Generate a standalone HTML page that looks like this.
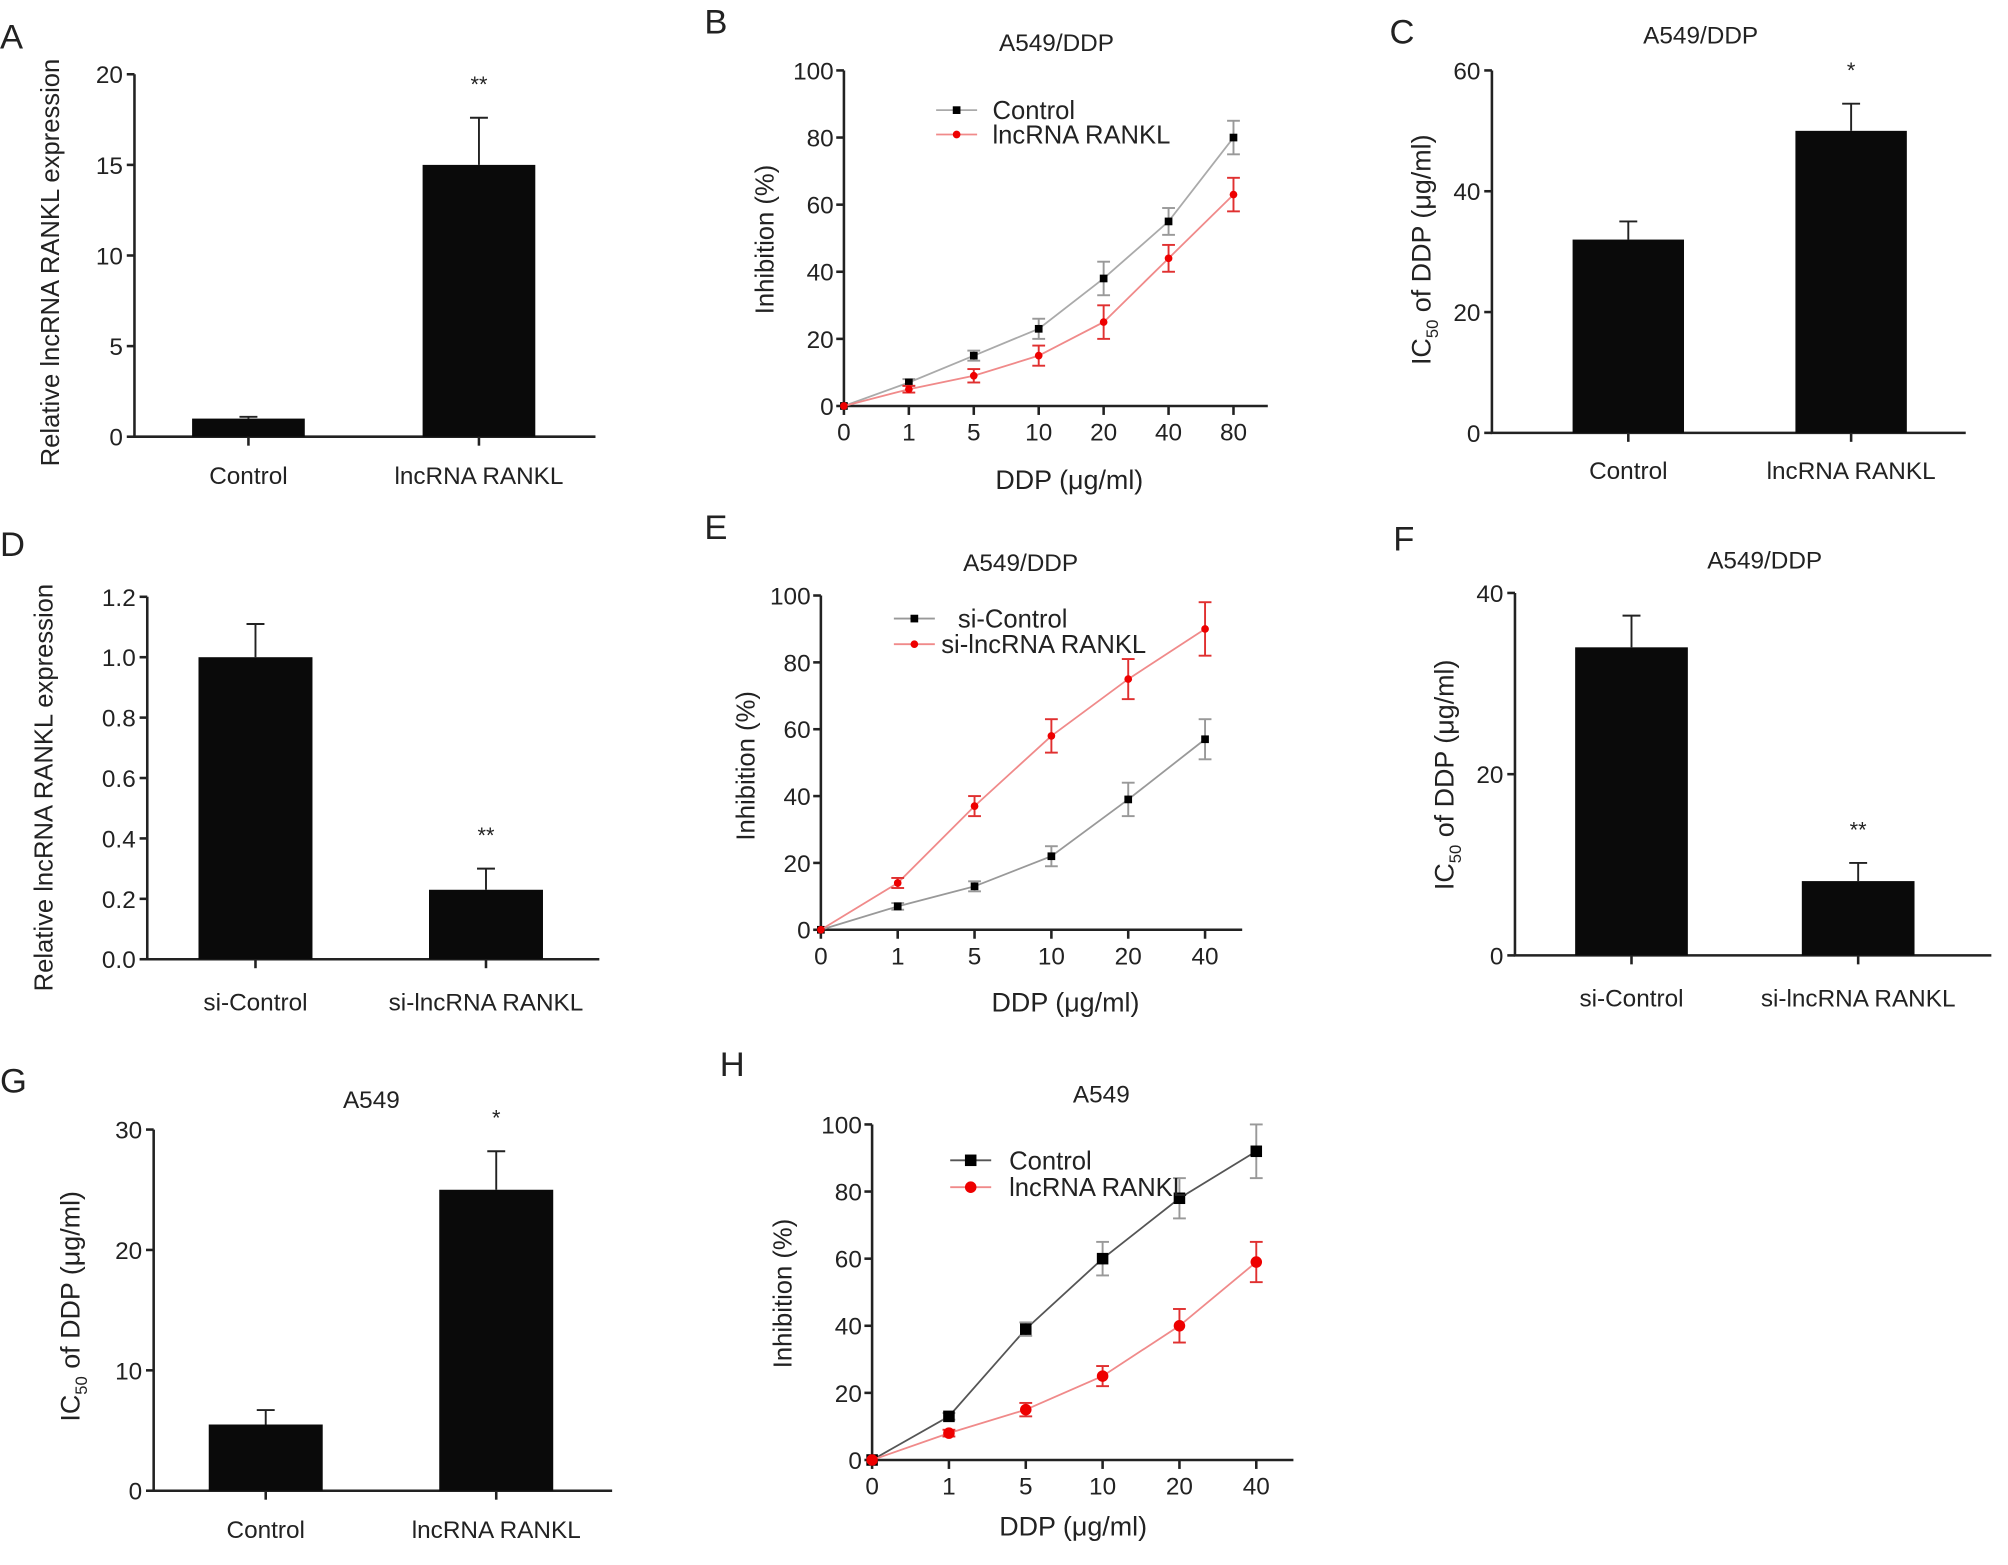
<!DOCTYPE html>
<html><head><meta charset="utf-8"><style>
html,body{margin:0;padding:0;background:#fff;}
svg{display:block;font-family:"Liberation Sans",Arial,sans-serif;}
</style></head><body>
<svg id="fig" width="2008" height="1565" viewBox="0 0 1568 1222" preserveAspectRatio="none" xmlns="http://www.w3.org/2000/svg">
<rect width="1568" height="1222" fill="#fff"/>
</svg>
<script>
// ---- Data ----
const barACats = ["Control", "lncRNA RANKL"];
const barAVals = [1, 15];
const barAErr = [0.1, 2.6];
const barAStars = ["", "**"];
const barATicks = [0, 5, 10, 15, 20];

const lineBCats = ["0", "1", "5", "10", "20", "40", "80"];
const lineBCtrl = [0, 7, 15, 23, 38, 55, 80];
const lineBCtrlErr = [0, 1, 1.5, 3, 5, 4, 5];
const lineBRankl = [0, 5, 9, 15, 25, 44, 63];
const lineBRanklErr = [0, 1, 2, 3, 5, 4, 5];
const inhTicks = [0, 20, 40, 60, 80, 100];

const barCCats = ["Control", "lncRNA RANKL"];
const barCVals = [32, 50];
const barCErr = [3, 4.5];
const barCStars = ["", "*"];
const barCTicks = [0, 20, 40, 60];

const barDCats = ["si-Control", "si-lncRNA RANKL"];
const barDVals = [1.0, 0.23];
const barDErr = [0.11, 0.07];
const barDStars = ["", "**"];
const barDTicks = ["0.0", "0.2", "0.4", "0.6", "0.8", "1.0", "1.2"];

const lineECats = ["0", "1", "5", "10", "20", "40"];
const lineECtrl = [0, 7, 13, 22, 39, 57];
const lineECtrlErr = [0, 1, 1.5, 3, 5, 6];
const lineERankl = [0, 14, 37, 58, 75, 90];
const lineERanklErr = [0, 1.5, 3, 5, 6, 8];

const barFCats = ["si-Control", "si-lncRNA RANKL"];
const barFVals = [34, 8.2];
const barFErr = [3.5, 2];
const barFStars = ["", "**"];
const barFTicks = [0, 20, 40];

const barGCats = ["Control", "lncRNA RANKL"];
const barGVals = [5.5, 25];
const barGErr = [1.2, 3.2];
const barGStars = ["", "*"];
const barGTicks = [0, 10, 20, 30];

const lineHCats = ["0", "1", "5", "10", "20", "40"];
const lineHCtrl = [0, 13, 39, 60, 78, 92];
const lineHCtrlErr = [0, 1, 2, 5, 6, 8];
const lineHRankl = [0, 8, 15, 25, 40, 59];
const lineHRanklErr = [0, 1, 2, 3, 5, 6];

// ---- Drawing ----
const svg = document.getElementById('fig');
const NS = 'http://www.w3.org/2000/svg';
function el(tag, attrs, parent) {
  const e = document.createElementNS(NS, tag);
  for (const k in attrs) e.setAttribute(k, attrs[k]);
  (parent || svg).appendChild(e);
  return e;
}
function txt(s, x, y, size, anchor, parent, rot) {
  const t = el('text', {x: x, y: y, 'font-size': size, 'text-anchor': anchor || 'middle', fill: '#222'}, parent);
  if (rot) t.setAttribute('transform', 'rotate(-90 ' + x + ' ' + y + ')');
  t.textContent = s;
  return t;
}
function panelLetter(L, x, y) {
  const t = txt(L, x, y, 27, 'start');
  
  
}

function barChart(o) {
  const g = el('g', {});
  
  
  const ticks = o.ticks.map(Number);
  const ymin = ticks[0], ymax = ticks[ticks.length - 1];
  const ys = v => o.y0 - (v - ymin) / (ymax - ymin) * (o.y0 - o.y1);
  const ax = el('path', {d: `M${o.ax},${o.y1} V${o.y0} H${o.xend}`, stroke: '#222', 'stroke-width': 2, fill: 'none'}, g);
  
  
  o.ticks.forEach((t, i) => {
    const y = ys(Number(t));
    el('line', {x1: o.ax - 6, x2: o.ax, y1: y, y2: y, stroke: '#222', 'stroke-width': 2}, g);
    const tl = txt(String(t), o.ax - 9, y + 7, 19, 'end', g);
    
    
  });
  o.cats.forEach((c, i) => {
    const x = o.bx[i], w = o.bw;
    const cx = x + w / 2;
    const top = ys(o.vals[i]);
    const b = el('rect', {x: x, y: top, width: w, height: o.y0 - top, fill: '#0a0a0a'}, g);
    
    
    const et = ys(o.vals[i] + o.err[i]);
    el('line', {x1: cx, x2: cx, y1: top, y2: et, stroke: '#222', 'stroke-width': 1.5}, g);
    el('line', {x1: cx - 7, x2: cx + 7, y1: et, y2: et, stroke: '#222', 'stroke-width': 1.5}, g);
    el('line', {x1: cx, x2: cx, y1: o.y0, y2: o.y0 + 7, stroke: '#222', 'stroke-width': 2}, g);
    const cl = txt(c, cx, o.labY, 19, 'middle', g);
    
    
    if (o.stars[i]) {
      const s = txt(o.stars[i], cx, et - 20, 17, 'middle', g);
      
      
    }
  });
  if (o.title) {
    const tt = txt(o.title, o.title[1], o.title[2], 19, 'middle', g);
  }
  if (o.ic50) {
    const t = el('text', {x: o.ytx, y: o.yty, 'font-size': 21, 'text-anchor': 'middle', fill: '#222', transform: `rotate(-90 ${o.ytx} ${o.yty})`}, g);
    t.innerHTML = 'IC<tspan font-size="13" dy="6">50</tspan><tspan dy="-6"> of DDP (μg/ml)</tspan>';
    
    
  } else {
    const t = txt(o.ytitle, o.ytx, o.yty, 20, 'middle', g, true);
    
    
  }
}

function lineChart(o) {
  const g = el('g', {});
  
  
  const ys = v => o.y0 - v / 100 * (o.y0 - o.y1);
  const xs = i => o.x0 + i * o.dx;
  const ax = el('path', {d: `M${o.x0},${o.y1} V${o.y0} H${o.xend}`, stroke: '#222', 'stroke-width': 2, fill: 'none'}, g);
  
  
  inhTicks.forEach(t => {
    const y = ys(t);
    el('line', {x1: o.x0 - 6, x2: o.x0, y1: y, y2: y, stroke: '#222', 'stroke-width': 2}, g);
    const tl = txt(String(t), o.x0 - 8, y + 7, 19, 'end', g);
    
    
  });
  o.cats.forEach((c, i) => {
    const x = xs(i);
    el('line', {x1: x, x2: x, y1: o.y0, y2: o.y0 + 7, stroke: '#222', 'stroke-width': 2}, g);
    const tl = txt(c, x, o.y0 + 27, 19, 'middle', g);
    
    
  });
  const series = [
    {vals: o.ctrl, err: o.ctrlErr, line: o.ctrlLine, mk: '#000', shape: 'sq', name: 'control'},
    {vals: o.rankl, err: o.ranklErr, line: '#f08a8a', mk: '#e00', shape: 'ci', name: 'lncrna-rankl'}
  ];
  series.forEach(s => {
    const pts = s.vals.map((v, i) => xs(i) + ',' + ys(v)).join(' ');
    const pl = el('polyline', {points: pts, fill: 'none', stroke: s.line, 'stroke-width': 1.4}, g);
    
    
    s.vals.forEach((v, i) => {
      const x = xs(i), y = ys(v), e = s.err[i];
      const ec = s.shape === 'sq' ? '#999' : '#e03030';
      if (e > 0) {
        el('line', {x1: x, x2: x, y1: ys(v + e), y2: ys(v - e), stroke: ec, 'stroke-width': 1.5}, g);
        el('line', {x1: x - 5, x2: x + 5, y1: ys(v + e), y2: ys(v + e), stroke: ec, 'stroke-width': 1.5}, g);
        el('line', {x1: x - 5, x2: x + 5, y1: ys(v - e), y2: ys(v - e), stroke: ec, 'stroke-width': 1.5}, g);
      }
      let m;
      if (s.shape === 'sq') m = el('rect', {x: x - o.ms / 2, y: y - o.ms / 2, width: o.ms, height: o.ms, fill: s.mk}, g);
      else m = el('circle', {cx: x, cy: y, r: o.ms / 2, fill: s.mk}, g);
      
      
    });
  });
  // legend
  o.leg.forEach((L, k) => {
    const lg = el('g', {}, g);
    
    
    const s = series[k];
    el('line', {x1: L[0] - 16, x2: L[0] + 16, y1: L[1], y2: L[1], stroke: s.line, 'stroke-width': 1.4}, lg);
    if (s.shape === 'sq') el('rect', {x: L[0] - o.ms / 2, y: L[1] - o.ms / 2, width: o.ms, height: o.ms, fill: s.mk}, lg);
    else el('circle', {cx: L[0], cy: L[1], r: o.ms / 2, fill: s.mk}, lg);
    txt(L[3], L[2], L[1] + 7, 20, 'start', lg);
  });
  const xt = txt('DDP (μg/ml)', o.xtx, o.xty, 21, 'middle', g);
  
  
  const yt = txt('Inhibition (%)', o.ytx, o.yty, 20, 'middle', g, true);
  
  
}
function title(s, x, y) {
  const t = txt(s, x, y, 19, 'middle');
  
  
}

// Panel A
panelLetter('A', 0, 38);
barChart({id: 'a', cats: barACats, vals: barAVals, err: barAErr, stars: barAStars, ticks: barATicks,
  ax: 105, y0: 341, y1: 58, xend: 465, bx: [150, 330], bw: 88, labY: 378,
  ytitle: 'Relative lncRNA RANKL expression', ytx: 46, yty: 205});
// Panel B
panelLetter('B', 550, 26);
title('A549/DDP', 825, 40);
lineChart({id: 'b', cats: lineBCats, ctrl: lineBCtrl, ctrlErr: lineBCtrlErr, rankl: lineBRankl, ranklErr: lineBRanklErr,
  ctrlLine: '#aaa', x0: 659, dx: 50.7, y0: 317, y1: 55, xend: 990, ms: 6,
  leg: [[747, 86, 775, 'Control'], [747, 105, 775, 'lncRNA RANKL']], xtx: 835, xty: 382, ytx: 604, yty: 187});
// Panel C
panelLetter('C', 1085, 34);
title('A549/DDP', 1328, 34);
barChart({id: 'c', cats: barCCats, vals: barCVals, err: barCErr, stars: barCStars, ticks: barCTicks,
  ax: 1165, y0: 338, y1: 55, xend: 1535, bx: [1228, 1402], bw: 87, labY: 374, ic50: true, ytx: 1117, yty: 195});
// Panel D
panelLetter('D', 0, 434);
barChart({id: 'd', cats: barDCats, vals: barDVals, err: barDErr, stars: barDStars, ticks: barDTicks,
  ax: 115, y0: 749, y1: 466, xend: 468, bx: [155, 335], bw: 89, labY: 789,
  ytitle: 'Relative lncRNA RANKL expression', ytx: 41, yty: 615});
// Panel E
panelLetter('E', 550, 421);
title('A549/DDP', 797, 446);
lineChart({id: 'e', cats: lineECats, ctrl: lineECtrl, ctrlErr: lineECtrlErr, rankl: lineERankl, ranklErr: lineERanklErr,
  ctrlLine: '#999', x0: 641, dx: 60, y0: 726, y1: 465, xend: 970, ms: 6,
  leg: [[714, 483, 748, 'si-Control'], [714, 503, 735, 'si-lncRNA RANKL']], xtx: 832, xty: 790, ytx: 589, yty: 598});
// Panel F
panelLetter('F', 1088, 430);
title('A549/DDP', 1378, 444);
barChart({id: 'f', cats: barFCats, vals: barFVals, err: barFErr, stars: barFStars, ticks: barFTicks,
  ax: 1183, y0: 746, y1: 463, xend: 1555, bx: [1230, 1407], bw: 88, labY: 786, ic50: true, ytx: 1135, yty: 605});
// Panel G
panelLetter('G', 0, 853);
title('A549', 290, 865);
barChart({id: 'g', cats: barGCats, vals: barGVals, err: barGErr, stars: barGStars, ticks: barGTicks,
  ax: 120, y0: 1164, y1: 882, xend: 478, bx: [163, 343], bw: 89, labY: 1201, ic50: true, ytx: 62, yty: 1020});
// Panel H
panelLetter('H', 562, 840);
title('A549', 860, 861);
lineChart({id: 'h', cats: lineHCats, ctrl: lineHCtrl, ctrlErr: lineHCtrlErr, rankl: lineHRankl, ranklErr: lineHRanklErr,
  ctrlLine: '#555', x0: 681, dx: 60, y0: 1140, y1: 878, xend: 1010, ms: 9,
  leg: [[758, 906, 788, 'Control'], [758, 927, 788, 'lncRNA RANKL']], xtx: 838, xty: 1199, ytx: 618, yty: 1010});
</script>
</body></html>
